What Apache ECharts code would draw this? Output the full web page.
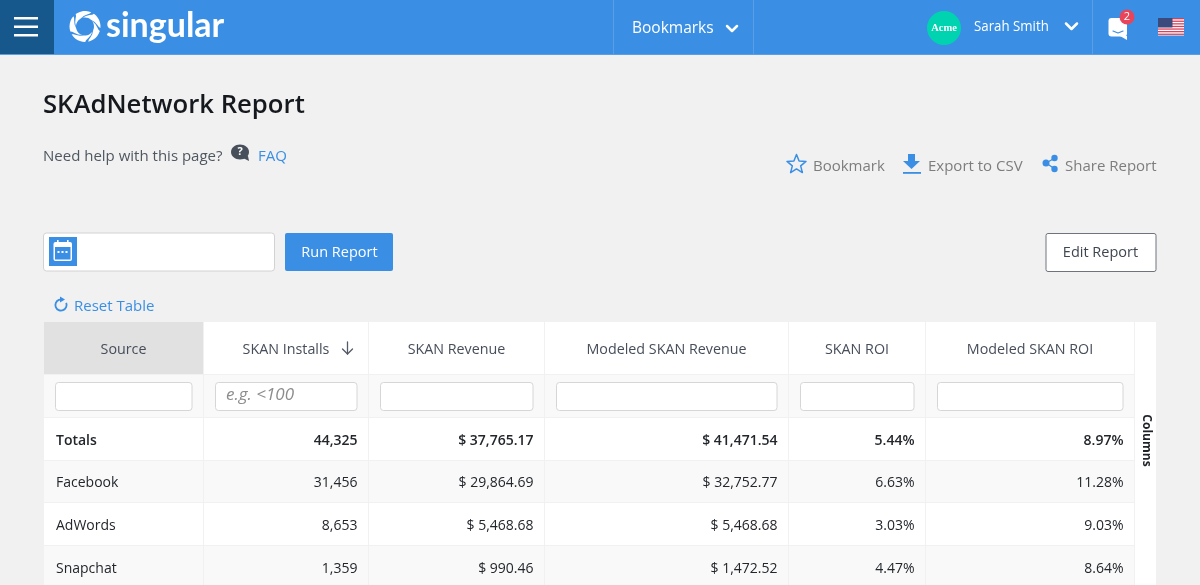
<!DOCTYPE html>
<html>
<head>
<meta charset="utf-8">
<title>SKAdNetwork Report</title>
<style>
  html, body { margin: 0; padding: 0; background: #f1f1f1; }
  #main { width: 1200px; height: 585px; }
</style>
<script src="https://cdn.jsdelivr.net/npm/echarts@6/dist/echarts.min.js"></script>
</head>
<body>
<div id="main"></div>
<script>
// table data
const columns = ['Source', 'SKAN Installs', 'SKAN Revenue', 'Modeled SKAN Revenue', 'SKAN ROI', 'Modeled SKAN ROI']
const sources = ['Totals', 'Facebook', 'AdWords', 'Snapchat']
const installs = [44325, 31456, 8653, 1359]
const revenue = [37765.17, 29864.69, 5468.68, 990.46]
const modeledRevenue = [41471.54, 32752.77, 5468.68, 1472.52]
const roi = [5.44, 6.63, 3.03, 4.47]
const modeledRoi = [8.97, 11.28, 9.03, 8.64]

// table layout, on the page's pixel scale
const colEdges = [44, 204, 369, 545, 789, 926, 1135]
const rowEdges = [322, 375, 418, 461, 503, 546, 589]

const FONT = '"Open Sans", "Noto Sans", sans-serif'
const BLUE = '#3a8fe4'
const LINK = '#3a8fe4'

const money = v => '$ ' + v.toLocaleString('en-US', { minimumFractionDigits: 2, maximumFractionDigits: 2 })
const pct = v => v.toFixed(2) + '%'

const cellText = (col, row) => {
  if (row === 0) return columns[col]
  if (row === 1) return col === 1 ? 'e.g. <100' : ''
  const i = row - 2
  return [sources[i], installs[i].toLocaleString('en-US'), money(revenue[i]), money(modeledRevenue[i]), pct(roi[i]), pct(modeledRoi[i])][col]
}

const cells = []
for (let r = 0; r < rowEdges.length - 1; r++) {
  for (let c = 0; c < columns.length; c++) cells.push([c, r])
}

const renderCell = (params, api) => {
  const c = api.value(0)
  const r = api.value(1)
  const [x0, y0] = api.coord([colEdges[c], rowEdges[r]])
  const [x1, y1] = api.coord([colEdges[c + 1], rowEdges[r + 1]])
  let fill = '#ffffff'
  if (r === 0 && c === 0) fill = '#e1e1e1'
  else if (r === 1 || r === 3 || r === 5) fill = '#f9f9f9'

  const children = [
    { type: 'rect', shape: { x: x0, y: y0, width: x1 - x0, height: y1 - y0 }, style: { fill } },
    { type: 'rect', shape: { x: x1 - 1, y: y0, width: 1, height: y1 - y0 }, style: { fill: '#f1f1f1' } },
    { type: 'rect', shape: { x: x0, y: y1 - 1, width: x1 - x0, height: 1 }, style: { fill: '#f1f1f1' } }
  ]
  const text = cellText(c, r)
  if (r === 0) {
    children.push({
      type: 'text',
      style: { x: (x0 + x1) / 2 - 0.5, y: (y0 + y1) / 2 + 1.5, text, align: 'center', verticalAlign: 'middle', fill: '#474e5a', font: '500 14.3px ' + FONT }
    })
  } else if (r === 1) {
    children.push({
      type: 'rect',
      shape: { x: x0 + 11.5, y: y0 + 7.5, width: x1 - x0 - 23.5, height: 28, r: 3 },
      style: { fill: '#ffffff', stroke: '#d6d6d6', lineWidth: 1 }
    })
    if (text) {
      children.push({
        type: 'text',
        style: { x: x0 + 22, y: y0 + 20, text, align: 'left', verticalAlign: 'middle', fill: '#8c8c8c', font: 'italic 17px ' + FONT }
      })
    }
  } else {
    children.push({
      type: 'text',
      style: {
        x: c === 0 ? x0 + 12 : x1 - 11.5,
        y: (y0 + y1) / 2 + (r === 2 ? 2 : 1.5),
        text,
        align: c === 0 ? 'left' : 'right',
        verticalAlign: 'middle',
        fill: '#23272c',
        font: (r === 2 ? '600 ' : '') + '14px ' + FONT
      }
    })
  }
  return { type: 'group', children }
}

// page furniture helpers
const label = (x, y, text, size, fill, extra) => ({
  type: 'text',
  x,
  y: y + 4,
  style: Object.assign({ text, fill, font: size + 'px ' + FONT, align: 'left', verticalAlign: 'middle' }, extra)
})
const box = (x, y, width, height, fill, extra) => ({
  type: 'rect',
  shape: { x, y, width, height, r: (extra && extra.r) || 0 },
  style: { fill, stroke: extra && extra.stroke, lineWidth: extra && extra.lineWidth }
})
const line = (points, stroke, lineWidth) => ({
  type: 'polyline',
  shape: { points },
  style: { stroke, lineWidth, fill: 'none', lineCap: 'round', lineJoin: 'round' }
})
const poly = (points, fill) => ({ type: 'polygon', shape: { points }, style: { fill } })

// logo swirl: sheared ring segments
const logoBlades = () => {
  const out = []
  const cx = 85
  const cy = 26.5
  const outer = 15.5
  const inner = 9
  const count = 5
  const width = (Math.PI * 2) / count - 0.2
  const shear = 0.95
  const polar = (a, rad) => [cx + rad * Math.cos(a), cy + rad * Math.sin(a)]
  for (let b = 0; b < count; b++) {
    const start = (b * Math.PI * 2) / count + 0.3
    const pts = []
    for (let k = 0; k <= 6; k++) pts.push(polar(start + (k / 6) * width, outer))
    for (let k = 1; k <= 4; k++) pts.push(polar(start + width - shear * (k / 4) * (k / 4), outer - (outer - inner) * (k / 4)))
    for (let k = 5; k >= 0; k--) pts.push(polar(start - shear + (k / 6) * width, inner))
    for (let k = 3; k >= 1; k--) pts.push(polar(start - shear * (k / 4) * (k / 4), outer - (outer - inner) * (k / 4)))
    out.push(poly(pts, '#ffffff'))
  }
  return out
}

const star = (cx, cy, ro, ri) => {
  const pts = []
  for (let i = 0; i < 10; i++) {
    const a = -Math.PI / 2 + (i * Math.PI) / 5
    const rad = i % 2 ? ri : ro
    pts.push([cx + rad * Math.cos(a), cy + rad * Math.sin(a)])
  }
  pts.push(pts[0])
  return line(pts, LINK, 1.5)
}

const flag = () => {
  const out = [box(1158, 18, 26, 17.5, '#ffffff')]
  for (let i = 0; i < 7; i++) out.push(box(1158, 18 + i * 2.6, 26, 1.3, '#d9415a'))
  out.push(box(1158, 18, 14.5, 9.5, '#3a4a7c'))
  return out
}

const furniture = [
  // top bar
  box(0, 0, 1200, 54, BLUE),
  box(0, 54, 1200, 1, '#5a9fe6'),
  box(0, 0, 54, 54, '#16588c'),
  box(14, 17, 24, 2.5, '#ffffff'),
  box(14, 25.5, 24, 2.5, '#ffffff'),
  box(14, 34, 24, 2.5, '#ffffff'),
  ...logoBlades(),
  label(106, 22.5, 'singular', 34, '#ffffff', { font: '700 34px Lato, ' + FONT }),
  box(613, 0, 1, 54, '#589fe8'),
  box(753, 0, 1, 54, '#589fe8'),
  box(1092, 0, 1, 54, '#589fe8'),
  label(632, 24.5, 'Bookmarks', 15.5, '#ffffff'),
  line([[727, 26], [732, 31], [737, 26]], '#ffffff', 2.5),
  { type: 'circle', shape: { cx: 944, cy: 28, r: 17 }, style: { fill: '#00d3b0' } },
  label(944, 24, 'Acme', 11, '#ffffff', { align: 'center', font: 'bold 10.5px "Liberation Serif", serif' }),
  Object.assign(label(974, 23, 'Sarah Smith', 14.5, '#ffffff'), { scaleX: 0.915 }),
  line([[1066, 23.5], [1071.5, 29], [1077, 23.5]], '#ffffff', 2.5),
  box(1108.5, 18, 18.5, 18.5, '#ffffff', { r: 3 }),
  poly([[1120, 36], [1127, 36], [1127, 40]], '#ffffff'),
  line([[1113, 31], [1118, 33], [1123, 31]], '#3a8fe4', 1.2),
  { type: 'circle', shape: { cx: 1127, cy: 17, r: 7.5 }, style: { fill: '#e8455a' } },
  label(1127, 13, '2', 11, '#ffffff', { align: 'center' }),
  ...flag(),

  // title area
  label(43, 102, 'SKAdNetwork Report', 25.7, '#15191e', { font: '600 25.7px ' + FONT }),
  label(43, 153, 'Need help with this page?', 15, '#4f5760'),
  { type: 'ellipse', shape: { cx: 240, cy: 152, rx: 9, ry: 7.5 }, style: { fill: '#474f5b' } },
  poly([[241, 157], [248, 156], [249, 161]], '#474f5b'),
  label(240, 148, '?', 11, '#ffffff', { align: 'center', font: 'bold 11px ' + FONT }),
  label(258, 153, 'FAQ', 15, LINK),

  // action links
  star(796.5, 164.5, 10, 4.4),
  label(813, 163, 'Bookmark', 15, '#7d7d7d'),
  poly([[908, 154], [915, 154], [915, 161], [920, 161], [911.5, 169], [903, 161], [908, 161]], LINK),
  box(903, 172, 18, 1.8, LINK),
  label(928, 163, 'Export to CSV', 15, '#7d7d7d'),
  line([[1055, 158], [1046, 163], [1055, 169]], LINK, 1.4),
  { type: 'circle', shape: { cx: 1046, cy: 163, r: 3.5 }, style: { fill: LINK } },
  { type: 'circle', shape: { cx: 1054.5, cy: 158, r: 3.2 }, style: { fill: LINK } },
  { type: 'circle', shape: { cx: 1054.5, cy: 169, r: 3.2 }, style: { fill: LINK } },
  label(1065, 163, 'Share Report', 15, '#7d7d7d'),

  // controls
  box(43.5, 233, 231, 38, '#ffffff', { stroke: '#d2d2d2', lineWidth: 1, r: 3 }),
  box(49, 237, 28, 29, BLUE),
  box(53.5, 242, 18.5, 19, '#ffffff', { r: 2 }),
  box(57, 240, 1.6, 3, '#ffffff'),
  box(67, 240, 1.6, 3, '#ffffff'),
  box(55, 247, 15.5, 12.5, BLUE),
  box(57.5, 251, 2, 2, '#ffffff'),
  box(61.5, 251, 2, 2, '#ffffff'),
  box(65.5, 251, 2, 2, '#ffffff'),
  box(285, 233, 108, 38, BLUE, { r: 2 }),
  label(339.5, 248.5, 'Run Report', 14.5, '#ffffff', { align: 'center', font: '500 14.5px ' + FONT }),
  box(1046, 233.5, 110, 38, '#ffffff', { stroke: '#6f747c', lineWidth: 1, r: 2 }),
  label(1100.5, 249, 'Edit Report', 14.5, '#3f4650', { align: 'center', font: '500 14.5px ' + FONT }),

  // reset link
  { type: 'arc', shape: { cx: 61, cy: 305, r: 5.6, startAngle: -Math.PI * 0.12, endAngle: -Math.PI * 0.5, clockwise: true }, style: { stroke: LINK, lineWidth: 1.8, fill: 'none' } },
  poly([[60, 296.5], [65, 299.5], [60, 302.5]], LINK),
  label(74, 303, 'Reset Table', 15, LINK),

  // sort arrow and side tab
  line([[347.5, 342], [347.5, 354]], '#555b64', 1.3),
  line([[342.5, 349], [347.5, 354], [352.5, 349]], '#555b64', 1.3),
  box(1135, 322, 21, 263, '#ffffff'),
  {
    type: 'text',
    x: 1146,
    y: 440.5,
    rotation: -Math.PI / 2,
    style: { text: 'Columns', fill: '#1f2328', font: '700 12px ' + FONT, align: 'center', verticalAlign: 'middle' }
  }
].map(el => Object.assign(el, { z: 10 }))

const chart = echarts.init(document.getElementById('main'), null, { renderer: 'canvas' })
chart.setOption({
  animation: false,
  backgroundColor: '#f1f1f1',
  grid: { left: 0, right: 0, top: 0, bottom: 0 },
  xAxis: { type: 'value', min: 0, max: 1200, show: false },
  yAxis: { type: 'value', min: 0, max: 585, inverse: true, show: false },
  graphic: { elements: furniture },
  series: [
    {
      type: 'custom',
      coordinateSystem: 'cartesian2d',
      clip: false,
      silent: true,
      data: cells,
      renderItem: renderCell
    }
  ]
})
</script>
</body>
</html>
